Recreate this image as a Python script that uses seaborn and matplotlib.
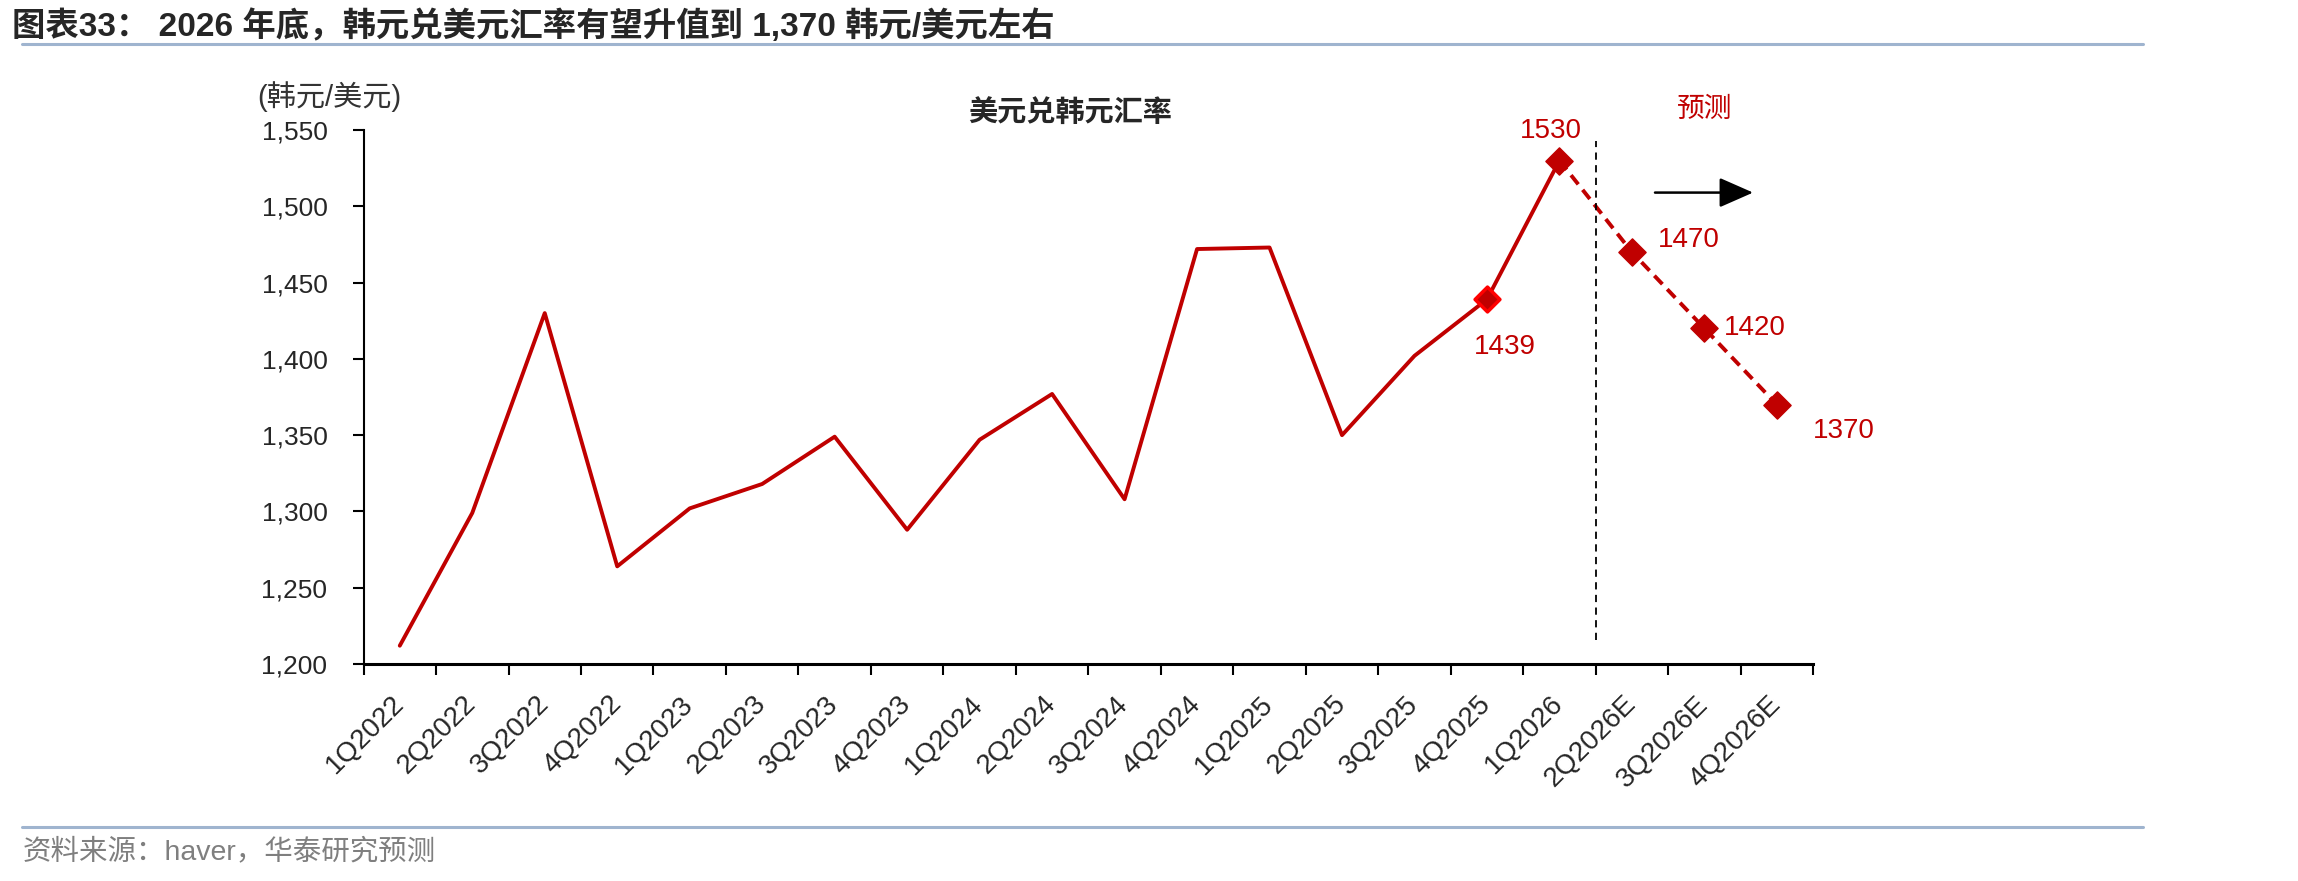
import numpy as np
import pandas as pd
import matplotlib
matplotlib.use("Agg")
import matplotlib.pyplot as plt
import seaborn as sns
from matplotlib.lines import Line2D
from matplotlib.ticker import FuncFormatter, FixedLocator

# 数据：美元兑韩元汇率（季度，E = 预测）
quarters = ["1Q2022", "2Q2022", "3Q2022", "4Q2022",
            "1Q2023", "2Q2023", "3Q2023", "4Q2023",
            "1Q2024", "2Q2024", "3Q2024", "4Q2024",
            "1Q2025", "2Q2025", "3Q2025", "4Q2025",
            "1Q2026", "2Q2026E", "3Q2026E", "4Q2026E"]
rate = [1212, 1299, 1430, 1264,
        1302, 1318, 1349, 1288,
        1347, 1377, 1308, 1472,
        1473, 1350, 1402, 1439,
        1530, 1470, 1420, 1370]
last_actual = "1Q2026"
highlight = "4Q2025"
labelled = ["4Q2025", "1Q2026", "2Q2026E", "3Q2026E", "4Q2026E"]
y_ticks = [1200, 1250, 1300, 1350, 1400, 1450, 1500, 1550]

RED = "#C00000"
# 标签偏移 (points)
label_offset = {"4Q2025": (13, -34), "1Q2026": (-6, 21), "2Q2026E": (41, 9),
                "3Q2026E": (36, 0), "4Q2026E": (48, -19)}

sns.set_style("ticks")
plt.rcParams["font.family"] = ["Liberation Sans", "Noto Sans CJK SC"]
plt.rcParams["axes.unicode_minus"] = False

df = pd.DataFrame({"quarter": quarters, "rate": rate})
df["pos"] = np.arange(len(df))
n_act = quarters.index(last_actual) + 1
actual = df.iloc[:n_act]
fcst = df.iloc[n_act - 1:]
marked = df[df["quarter"].isin(labelled)]

fig = plt.figure(figsize=(22.98, 8.81), dpi=100)
ax = fig.add_axes([0.1582, 0.2463, 0.6308, 0.6061])

sns.lineplot(data=actual, x="pos", y="rate", ax=ax, color=RED, lw=2.8)
sns.lineplot(data=fcst, x="pos", y="rate", ax=ax, color=RED, lw=2.8,
             linestyle=(0, (3, 1.8)))
sns.scatterplot(data=marked[marked["quarter"] != highlight], x="pos", y="rate",
                ax=ax, marker="D", s=190, color=RED, edgecolor=RED, zorder=5)
sns.scatterplot(data=marked[marked["quarter"] == highlight], x="pos", y="rate",
                ax=ax, marker="D", s=160, color=RED, edgecolor="#FF0000",
                linewidth=2.5, zorder=5)

for _, r in marked.iterrows():
    ax.annotate(f"{r['rate']}", (r["pos"], r["rate"]),
                xytext=label_offset[r["quarter"]], textcoords="offset points",
                ha="center", va="center", color=RED, fontsize=20)

# 预测分界线 + 箭头
trans = ax.get_xaxis_transform()
ax.plot([n_act - 0.5, n_act - 0.5], [0.045, 0.98], transform=trans,
        color="black", lw=1.3, linestyle=(0, (4, 3)), clip_on=False)
ax.annotate("", xy=(n_act + 1.71, 1509), xytext=(n_act + 0.28, 1509),
            arrowprops=dict(arrowstyle="-|>,head_length=0.5,head_width=0.22",
                            color="black", lw=1.8, mutation_scale=42))
ax.text(n_act + 1.0, 1563, "预测", color=RED, fontsize=20,
        ha="center", va="center", clip_on=False)

ax.set_xlim(-0.5, len(quarters) - 0.5)
ax.set_ylim(y_ticks[0], y_ticks[-1])
ax.set_yticks(y_ticks)
ax.yaxis.set_major_formatter(FuncFormatter(lambda v, p: f"{int(v):,}"))
ax.set_xticks(df["pos"])
ax.set_xticklabels(quarters, rotation=45, ha="right", va="center",
                   rotation_mode="anchor")
ax.xaxis.set_minor_locator(FixedLocator(np.arange(len(quarters) + 1) - 0.5))
ax.tick_params(axis="x", which="major", length=0, pad=26, labelsize=20)
ax.tick_params(axis="x", which="minor", length=8, width=1.5, color="black")
ax.tick_params(axis="y", length=8, width=1.5, pad=18, labelsize=19, color="black")
ax.set_xlabel("")
ax.set_ylabel("")
sns.despine(ax=ax)
ax.spines["left"].set_linewidth(1.5)
ax.spines["bottom"].set_linewidth(2.2)
ax.spines["left"].set_color("black")
ax.spines["bottom"].set_color("black")

# 标题、单位、来源
fig.text(0.0052, 0.9705, "图表33： 2026 年底，韩元兑美元汇率有望升值到 1,370 韩元/美元左右",
         fontsize=24, fontweight="bold", ha="left", va="center")
fig.text(0.4656, 0.8717, "美元兑韩元汇率", fontsize=21, fontweight="bold",
         ha="center", va="center")
fig.text(0.1432, 0.890, "(韩元/美元)", fontsize=21, ha="center", va="center",
         color="#333333")
fig.text(0.010, 0.033, "资料来源：haver，华泰研究预测", fontsize=20.5,
         color="#7F7F7F", ha="left", va="center")
for yy in (0.950, 0.0613):
    fig.add_artist(Line2D([0.0096, 0.9325], [yy, yy], transform=fig.transFigure,
                          color="#9FB4CF", lw=2.2))

fig.savefig("out.png", dpi=100)
